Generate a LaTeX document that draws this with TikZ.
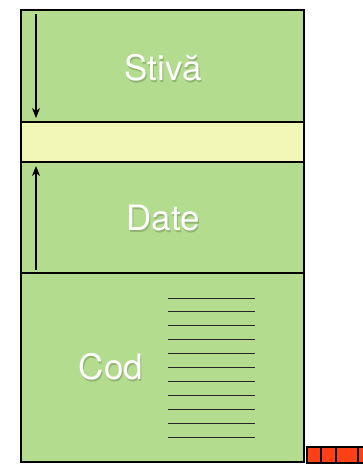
\documentclass[tikz,border=0pt]{standalone}
\usepackage{fontspec}
\setmainfont{TeX Gyre Heros}
\usetikzlibrary{arrows.meta}
\definecolor{seggreen}{HTML}{B3DC8E}
\definecolor{segyellow}{HTML}{F2F7B8}
\definecolor{cellred}{HTML}{FF4016}
\definecolor{shadowgreen}{HTML}{92B572}
\tikzset{
  region/.style={draw=black, line width=1.8pt, minimum width=283pt, inner sep=0pt, outer sep=0pt},
  lbl/.style={text=white, font=\fontsize{35}{40}\selectfont, inner sep=0pt},
  lblshadow/.style={text=shadowgreen, font=\fontsize{35}{40}\selectfont, inner sep=0pt},
  codeline/.style={draw=black!85, line width=1pt},
  growarrow/.style={draw=black, line width=1.3pt, -{Stealth[length=10pt,width=8pt,inset=3pt]}},
  cell/.style={draw=black, line width=1.2pt, fill=cellred, inner sep=0pt, outer sep=0pt, minimum height=16pt}
}
\begin{document}
\begin{tikzpicture}[x=1pt,y=-1pt]
\useasboundingbox (0,0) rectangle (363,464);
\fill[white] (0,0) rectangle (363,464);
% memory regions
\node[region, fill=seggreen, minimum height=112pt] (stiva) at (162.5,66) {};
\node[region, fill=segyellow, minimum height=40pt] (liber) at (162.5,142) {};
\node[region, fill=seggreen, minimum height=111pt] (date) at (162.5,217.5) {};
\node[region, fill=seggreen, minimum height=189pt] (cod) at (162.5,367.5) {};
% label shadows
\node[lblshadow] (sstiva) at (164,69.6) {Stivă};
\node[lblshadow] (sdate) at (164,219.6) {Date};
\node[lblshadow] (scod) at (112,368.6) {Cod};
% labels
\node[lbl] (tstiva) at (163,68) {Stivă};
\node[lbl] (tdate) at (163,218) {Date};
\node[lbl] (tcod) at (111,367) {Cod};
% arrows
\coordinate (sa) at (36,14);
\coordinate (sb) at (36,118);
\coordinate (da) at (36,270);
\coordinate (db) at (36,166);
\draw[growarrow] (sa) -- (sb);
\draw[growarrow] (da) -- (db);
% code lines
\foreach \i in {0,...,10} {
  \coordinate (l\i a) at (168,298+13.9*\i);
  \coordinate (l\i b) at (255,298+13.9*\i);
  \draw[codeline] (l\i a) -- (l\i b);
}
% red cells
\node[cell, minimum width=14pt] (c1) at (314,455) {};
\node[cell, minimum width=15pt] (c2) at (328.5,455) {};
\node[cell, minimum width=22pt] (c3) at (347,455) {};
\node[cell, minimum width=12pt] (c4) at (364,455) {};
\end{tikzpicture}
\end{document}
